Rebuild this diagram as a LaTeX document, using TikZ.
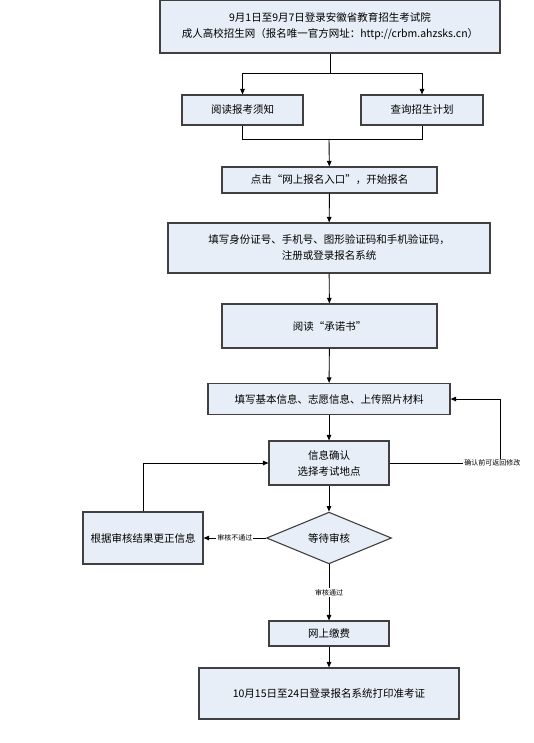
\documentclass[tikz,border=0pt]{standalone}
\usepackage{fontspec}
\setmainfont{Noto Sans CJK SC}
\definecolor{boxfill}{RGB}{232,238,247}
\definecolor{boxline}{RGB}{64,64,64}
\usetikzlibrary{shapes.geometric, arrows.meta, positioning}
\tikzset{
    proc/.style={
           rectangle,
           draw=boxline, line width=1.1pt,
           fill=boxfill,
           inner sep=2pt,
           align=center,
           font=\fontsize{10.5}{16}\selectfont,
           },
    decide/.style={
           diamond,
           draw=boxline, line width=1.1pt,
           fill=boxfill,
           inner sep=0pt,
           font=\fontsize{10.5}{16}\selectfont,
           },
    wh/.style 2 args={minimum width=#1pt, minimum height=#2pt},
    lbl/.style={font=\fontsize{7}{8}\selectfont, fill=white, inner sep=1pt},
}

\begin{document}
\begin{tikzpicture}[x=1pt, y=-1pt, ->, >={Triangle[length=5.5pt,width=4.5pt]}, line width=0.9pt]
      \useasboundingbox (0,0) rectangle (534,743);
      \node[proc, wh={340}{53}] (T) at (330, 26.5) {9月1日至9月7日登录安徽省教育招生考试院\\成人高校招生网（报名唯一官方网址：http://crbm.ahzsks.cn）};
      \node[proc, wh={121}{30}] (A) at (242.5, 110) {阅读报考须知};
      \node[proc, wh={122}{30}] (B) at (422, 110)   {查询招生计划};
      \node[proc, wh={215}{26}] (C) at (329.5, 180) {点击“网上报名入口”，开始报名};
      \node[proc, wh={322}{50}] (D) at (329, 248)   {填写身份证号、手机号、图形验证码和手机验证码，\\注册或登录报名系统};
      \node[proc, wh={215}{44}] (E) at (329.5, 326) {阅读“承诺书”};
      \node[proc, wh={242}{31}] (F) at (329, 399)   {填写基本信息、志愿信息、上传照片材料};
      \node[proc, wh={120}{44}] (G) at (329, 463)   {信息确认\\选择考试地点};
      \node[decide, wh={125}{50}] (H) at (329, 538) {等待审核};
      \node[proc, wh={120}{52}] (K) at (143, 538)   {根据审核结果更正信息};
      \node[proc, wh={120}{25}] (P) at (329, 633.5) {网上缴费};
      \node[proc, wh={260}{51}] (Q) at (329, 693.5) {10月15日至24日登录报名系统打印准考证};
      \coordinate (split) at (330, 73);
      \coordinate (join)  at (329, 139);
      \coordinate (back)  at (500, 463);
      \draw[-] (T) -- (split);
      \draw (split) -| (A);
      \draw (split) -| (B);
      \draw[-] (A) |- (join);
      \draw[-] (B) |- (join);
      \draw (join) -- (C);
      \draw (C) -- (D);
      \draw (D) -- (E);
      \draw (E) -- (F);
      \draw (F) -- (G);
      \draw (G) -- (H);
      \draw (G) -- node[lbl, pos=0.93]{确认前可返回修改} (back) |- (F);
      \draw (H) -- node[lbl]{审核不通过} (K);
      \draw (K) |- (G);
      \draw (H) -- node[lbl]{审核通过} (P);
      \draw (P) -- (Q);
    \end{tikzpicture}
\end{document}
